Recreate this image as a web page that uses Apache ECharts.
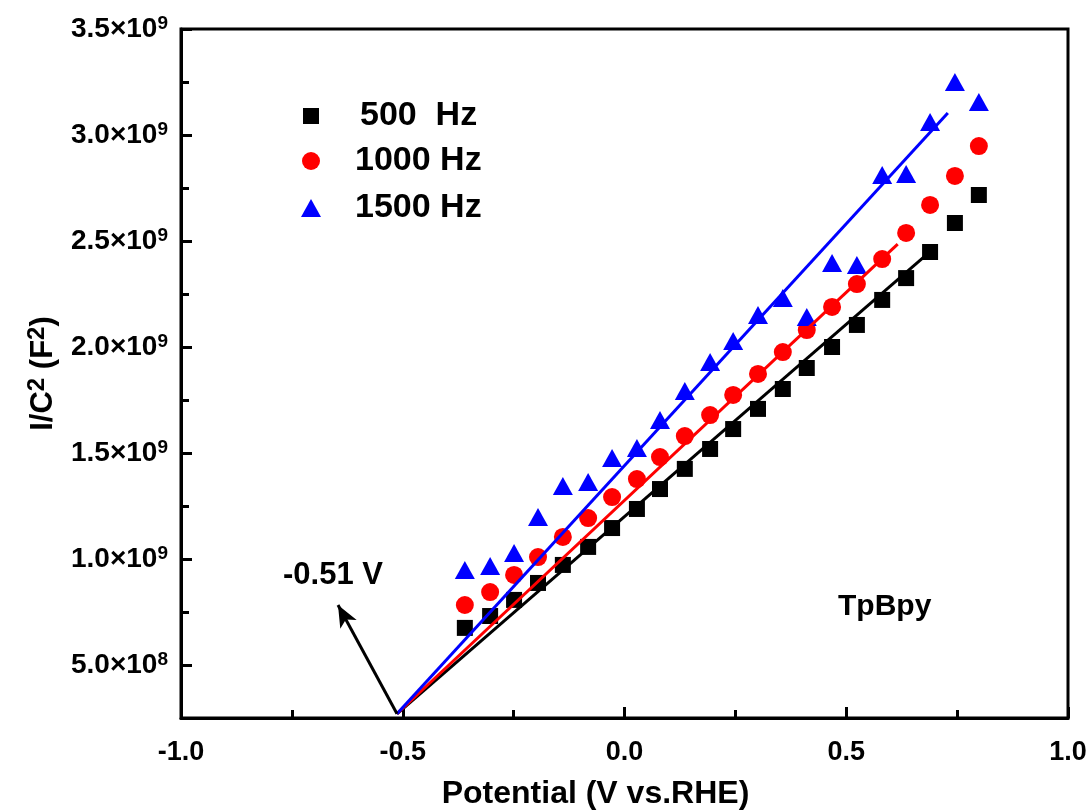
<!DOCTYPE html>
<html>
<head>
<meta charset="utf-8">
<title>TpBpy Mott-Schottky</title>
<script src="https://cdn.jsdelivr.net/npm/echarts@6/dist/echarts.min.js"></script>
<style>
  html, body { margin: 0; padding: 0; background: #fff; }
  #chart { width: 1091px; height: 810px; }
</style>
</head>
<body>
<div id="chart"></div>
<script>
// Applied potential (V vs. RHE) shared by all three frequencies
const potential = [-0.360, -0.303, -0.249, -0.195, -0.139, -0.082, -0.028, 0.028, 0.080, 0.136, 0.193,
                   0.245, 0.301, 0.357, 0.411, 0.468, 0.524, 0.581, 0.635, 0.689, 0.745, 0.799];

// 1/C^2 in units of 1e9 F^-2
const invC2_500 = [0.675, 0.731, 0.807, 0.887, 0.972, 1.057, 1.146, 1.236, 1.330, 1.425, 1.519,
                   1.613, 1.708, 1.802, 1.901, 2.000, 2.104, 2.222, 2.325, 2.448, 2.585, 2.717];
const invC2_1000 = [0.783, 0.844, 0.925, 1.009, 1.104, 1.193, 1.292, 1.377, 1.481, 1.580, 1.679,
                    1.774, 1.873, 1.976, 2.080, 2.189, 2.297, 2.415, 2.538, 2.670, 2.807, 2.948];
const invC2_1500 = [0.948, 0.967, 1.028, 1.198, 1.344, 1.363, 1.476, 1.524, 1.656, 1.792, 1.929,
                    2.028, 2.151, 2.231, 2.142, 2.396, 2.387, 2.811, 2.816, 3.061, 3.250, 3.156];

// Linear fits, as [potential, 1/C^2] end points, extrapolated to the flat-band potential
const fit500 = [[-0.513, 0.27], [0.689, 2.450]];
const fit1000 = [[-0.513, 0.27], [0.616, 2.485]];
const fit1500 = [[-0.513, 0.27], [0.729, 3.104]];

// Arrow marking the flat-band potential, from the intercept towards its label
const flatBandArrow = [[-0.513, 0.27], [-0.646, 0.783]];

const seriesNames = ['500  Hz', '1000 Hz', '1500 Hz'];

// Axis ticks and their labels
const xTicks = [-1.0, -0.5, 0.0, 0.5, 1.0];
const xTickLabels = ['-1.0', '-0.5', '0.0', '0.5', '1.0'];
const yTicks = [0.5, 1.0, 1.5, 2.0, 2.5, 3.0, 3.5];
const yTickMantissa = ['5.0', '1.0', '1.5', '2.0', '2.5', '3.0', '3.5'];
const yTickExponent = ['8', '9', '9', '9', '9', '9', '9'];
const yMinorTicks = [0.75, 1.25, 1.75, 2.25, 2.75, 3.25];

const FONT = "'Liberation Sans', Arial, Helvetica, sans-serif";

function pairs(xs, ys) { return xs.map((x, i) => [x, ys[i]]); }

const chart = echarts.init(document.getElementById('chart'), null, { renderer: 'canvas' });

function legendFor(name, icon, w, h, left, top, pad) {
  return {
    data: [{ name: name, icon: icon }],
    left: left, top: top, padding: 0,
    itemWidth: w, itemHeight: h,
    selectedMode: false,
    formatter: n => '{t|' + n + '}',
    textStyle: {
      rich: {
        t: { fontFamily: FONT, fontWeight: 'bold', fontSize: 34, color: '#000',
             lineHeight: 36, padding: [0, 0, 0, pad] }
      }
    }
  };
}

const option = {
  backgroundColor: '#fff',
  animation: false,
  grid: {
    left: 181, right: 23, top: 29, bottom: 92,
    outerBoundsMode: 'none', containLabel: false,
    show: true, borderColor: '#000', borderWidth: 3, backgroundColor: 'transparent'
  },
  legend: [
    legendFor(seriesNames[0], 'rect', 16, 16, 303, 99, 36),
    legendFor(seriesNames[1], 'circle', 18, 18, 302, 144, 30),
    legendFor(seriesNames[2], 'triangle', 20, 18, 301, 191, 29)
  ],
  xAxis: {
    type: 'value', min: -1.0, max: 1.0, interval: 0.5,
    name: 'Potential (V vs.RHE)', nameLocation: 'middle', nameGap: 60,
    nameTextStyle: { fontFamily: FONT, fontWeight: 'bold', fontSize: 32, color: '#000', padding: [0, 58, 0, 0] },
    axisLine: { show: true, onZero: false, lineStyle: { color: '#000', width: 3 } },
    axisTick: { show: true, inside: true, length: 11, lineStyle: { color: '#000', width: 3 } },
    minorTick: { show: true, splitNumber: 2, length: 8, lineStyle: { color: '#000', width: 3 } },
    splitLine: { show: false },
    axisLabel: {
      margin: 21, color: '#000', fontFamily: FONT, fontWeight: 'bold', fontSize: 27,
      formatter: v => {
        const i = xTicks.findIndex(t => Math.abs(t - v) < 1e-9);
        return i >= 0 ? xTickLabels[i] : '';
      }
    }
  },
  yAxis: [
    {
      type: 'value', min: 0.25, max: 3.5,
      name: '{n|I/C}{s|2}{n| (F}{s|2}{n|)}', nameLocation: 'middle', nameGap: 120, nameRotate: 90,
      nameTextStyle: {
        rich: {
          n: { fontFamily: FONT, fontWeight: 'bold', fontSize: 31, color: '#000', lineHeight: 36 },
          s: { fontFamily: FONT, fontWeight: 'bold', fontSize: 24, color: '#000', lineHeight: 20, verticalAlign: 'top' }
        }
      },
      axisLine: { show: true, onZero: false, lineStyle: { color: '#000', width: 3 } },
      axisTick: { show: true, inside: true, length: 11, customValues: yTicks, lineStyle: { color: '#000', width: 3 } },
      splitLine: { show: false },
      axisLabel: {
        margin: 13, customValues: yTicks,
        formatter: v => {
          const i = yTicks.findIndex(t => Math.abs(t - v) < 1e-9);
          return i >= 0 ? '{m|' + yTickMantissa[i] + '×10}{e|' + yTickExponent[i] + '}' : '';
        },
        rich: {
          m: { fontFamily: FONT, fontWeight: 'bold', fontSize: 28, color: '#000', lineHeight: 30 },
          e: { fontFamily: FONT, fontWeight: 'bold', fontSize: 19, color: '#000', lineHeight: 15, verticalAlign: 'top' }
        }
      }
    },
    {
      // minor ticks between the labelled values
      type: 'value', min: 0.25, max: 3.5, position: 'left',
      axisLine: { show: false, onZero: false },
      axisTick: { show: true, inside: true, length: 8, customValues: yMinorTicks, lineStyle: { color: '#000', width: 3 } },
      axisLabel: { show: false },
      splitLine: { show: false }
    }
  ],
  series: [
    {
      name: seriesNames[0], type: 'scatter', symbol: 'rect', symbolSize: 16,
      itemStyle: { color: '#000000', opacity: 1 }, data: pairs(potential, invC2_500), z: 3
    },
    {
      name: seriesNames[1], type: 'scatter', symbol: 'circle', symbolSize: 18,
      itemStyle: { color: '#ff0000', opacity: 1 }, data: pairs(potential, invC2_1000), z: 3
    },
    {
      name: seriesNames[2], type: 'scatter', symbol: 'triangle', symbolSize: [20, 18],
      itemStyle: { color: '#0000ff', opacity: 1 }, data: pairs(potential, invC2_1500), z: 3
    },
    {
      name: 'fit 500', type: 'line', data: fit500, showSymbol: false, symbol: 'none',
      lineStyle: { color: '#000000', width: 3 }, z: 4, silent: true,
      markLine: {
        silent: true, animation: false,
        symbol: ['none', 'arrow'], symbolSize: [14, 22],
        lineStyle: { color: '#000', width: 3, type: 'solid' },
        label: { show: false },
        data: [[{ coord: flatBandArrow[0] }, { coord: flatBandArrow[1] }]]
      }
    },
    {
      name: 'fit 1000', type: 'line', data: fit1000, showSymbol: false, symbol: 'none',
      lineStyle: { color: '#ff0000', width: 3 }, z: 4, silent: true
    },
    {
      name: 'fit 1500', type: 'line', data: fit1500, showSymbol: false, symbol: 'none',
      lineStyle: { color: '#0000ff', width: 3 }, z: 4, silent: true
    }
  ],
  graphic: [
    {
      type: 'text', left: 283, top: 560,
      style: { text: '-0.51 V', fill: '#000', font: 'bold 31px ' + FONT }
    },
    {
      type: 'text', left: 838, top: 592,
      style: { text: 'TpBpy', fill: '#000', font: 'bold 30px ' + FONT }
    }
  ]
};

chart.setOption(option);
</script>
</body>
</html>
